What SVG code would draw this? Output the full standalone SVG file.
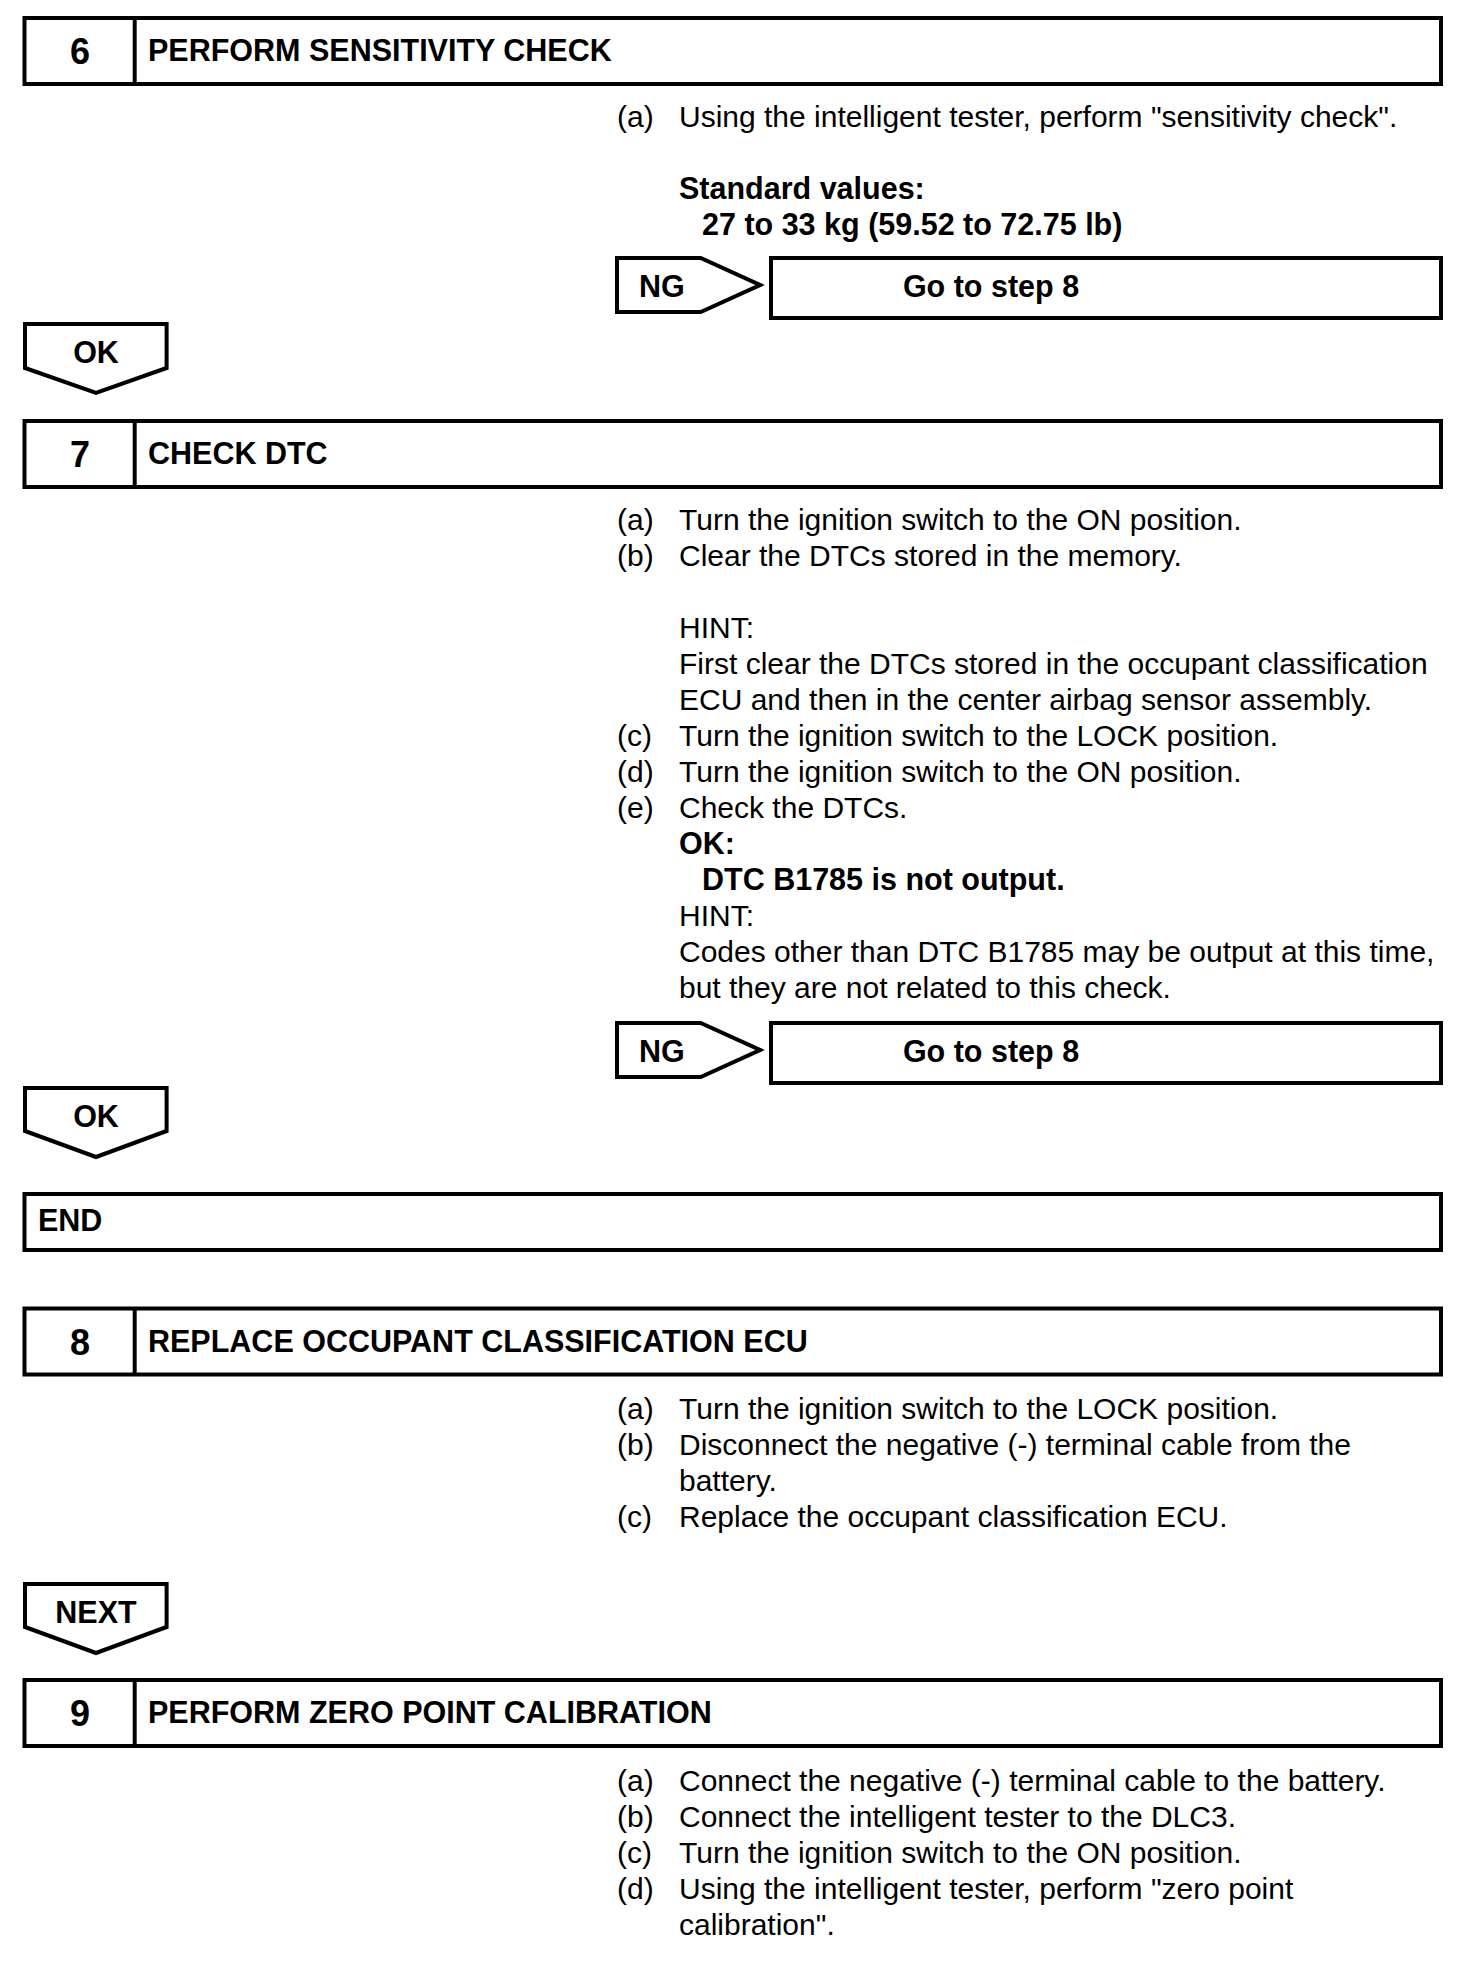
<svg xmlns="http://www.w3.org/2000/svg" width="1472" height="1972" viewBox="0 0 1472 1972">
<style>
text{font-family:"Liberation Sans",Arial,Helvetica,sans-serif;font-size:30px;fill:#000}
.b{font-weight:bold;font-size:30.5px}
.num{font-weight:bold;font-size:36px;text-anchor:middle}
.c{text-anchor:middle}
.box{fill:#fff;stroke:#000;stroke-width:4}
.ln{stroke:#000;stroke-width:4;fill:none}
.arr{fill:#fff;stroke:#000;stroke-width:4;stroke-linejoin:miter}
</style>
<rect width="1472" height="1972" fill="#fff"/>

<g id="step6">
<rect class="box" x="24.5" y="18" width="1416.5" height="66"/>
<line class="ln" x1="134.7" y1="18" x2="134.7" y2="84"/>
<text class="num" x="80" y="63.5">6</text>
<text class="b" x="148" y="61">PERFORM SENSITIVITY CHECK</text>
</g>
<g id="step6-body">
<text x="617" y="127">(a)</text>
<text x="679" y="127">Using the intelligent tester, perform "sensitivity check".</text>
<text class="b" x="679" y="199">Standard values:</text>
<text class="b" x="702" y="235">27 to 33 kg (59.52 to 72.75 lb)</text>
</g>
<g id="goto8-a">
<rect class="box" x="771" y="258" width="670" height="60"/>
<text class="b c" x="991" y="297">Go to step 8</text>
</g>

<g id="step7">
<rect class="box" x="24.5" y="421" width="1416.5" height="66"/>
<line class="ln" x1="134.7" y1="421" x2="134.7" y2="487"/>
<text class="num" x="80" y="466.5">7</text>
<text class="b" x="148" y="464">CHECK DTC</text>
</g>
<g id="step7-body">
<text x="617" y="530">(a)</text>
<text x="679" y="530">Turn the ignition switch to the ON position.</text>
<text x="617" y="566">(b)</text>
<text x="679" y="566">Clear the DTCs stored in the memory.</text>
<text x="679" y="638">HINT:</text>
<text x="679" y="674">First clear the DTCs stored in the occupant classification</text>
<text x="679" y="710">ECU and then in the center airbag sensor assembly.</text>
<text x="617" y="746">(c)</text>
<text x="679" y="746">Turn the ignition switch to the LOCK position.</text>
<text x="617" y="782">(d)</text>
<text x="679" y="782">Turn the ignition switch to the ON position.</text>
<text x="617" y="818">(e)</text>
<text x="679" y="818">Check the DTCs.</text>
<text class="b" x="679" y="854">OK:</text>
<text class="b" x="702" y="890">DTC B1785 is not output.</text>
<text x="679" y="926">HINT:</text>
<text x="679" y="962">Codes other than DTC B1785 may be output at this time,</text>
<text x="679" y="998">but they are not related to this check.</text>
</g>
<g id="goto8-b">
<rect class="box" x="771" y="1023" width="670" height="60"/>
<text class="b c" x="991" y="1062">Go to step 8</text>
</g>

<g id="end">
<rect class="box" x="24.5" y="1194" width="1416.5" height="56"/>
<text class="b" x="38" y="1231">END</text>
</g>

<g id="step8">
<rect class="box" x="24.5" y="1308.5" width="1416.5" height="66"/>
<line class="ln" x1="134.7" y1="1308.5" x2="134.7" y2="1374.5"/>
<text class="num" x="80" y="1354.5">8</text>
<text class="b" x="148" y="1352">REPLACE OCCUPANT CLASSIFICATION ECU</text>
</g>
<g id="step8-body">
<text x="617" y="1419">(a)</text>
<text x="679" y="1419">Turn the ignition switch to the LOCK position.</text>
<text x="617" y="1455">(b)</text>
<text x="679" y="1455">Disconnect the negative (-) terminal cable from the</text>
<text x="679" y="1491">battery.</text>
<text x="617" y="1527">(c)</text>
<text x="679" y="1527">Replace the occupant classification ECU.</text>
</g>

<g id="step9">
<rect class="box" x="24.5" y="1680" width="1416.5" height="66"/>
<line class="ln" x1="134.7" y1="1680" x2="134.7" y2="1746"/>
<text class="num" x="80" y="1725.5">9</text>
<text class="b" x="148" y="1723">PERFORM ZERO POINT CALIBRATION</text>
</g>
<g id="step9-body">
<text x="617" y="1791">(a)</text>
<text x="679" y="1791">Connect the negative (-) terminal cable to the battery.</text>
<text x="617" y="1827">(b)</text>
<text x="679" y="1827">Connect the intelligent tester to the DLC3.</text>
<text x="617" y="1863">(c)</text>
<text x="679" y="1863">Turn the ignition switch to the ON position.</text>
<text x="617" y="1899">(d)</text>
<text x="679" y="1899">Using the intelligent tester, perform "zero point</text>
<text x="679" y="1935">calibration".</text>
</g>

<g id="connectors">
<g id="ng-6">
<path class="arr" d="M617,258 H700.7 L760,285 L700.7,312 H617 Z"/>
<text class="b" x="639" y="297">NG</text>
</g>
<g id="ok-6">
<path class="arr" d="M25,324 H166.6 V368 L96,393 L25,368 Z"/>
<text class="b c" x="96" y="363">OK</text>
</g>
<g id="ng-7">
<path class="arr" d="M617,1023 H700.7 L760,1050 L700.7,1077 H617 Z"/>
<text class="b" x="639" y="1062">NG</text>
</g>
<g id="ok-7">
<path class="arr" d="M25,1088 H166.6 V1131 L96,1157 L25,1131 Z"/>
<text class="b c" x="96" y="1127">OK</text>
</g>
<g id="next-8">
<path class="arr" d="M25,1584 H166.6 V1627 L96,1653 L25,1627 Z"/>
<text class="b c" x="96" y="1623">NEXT</text>
</g>
</g>
</svg>
